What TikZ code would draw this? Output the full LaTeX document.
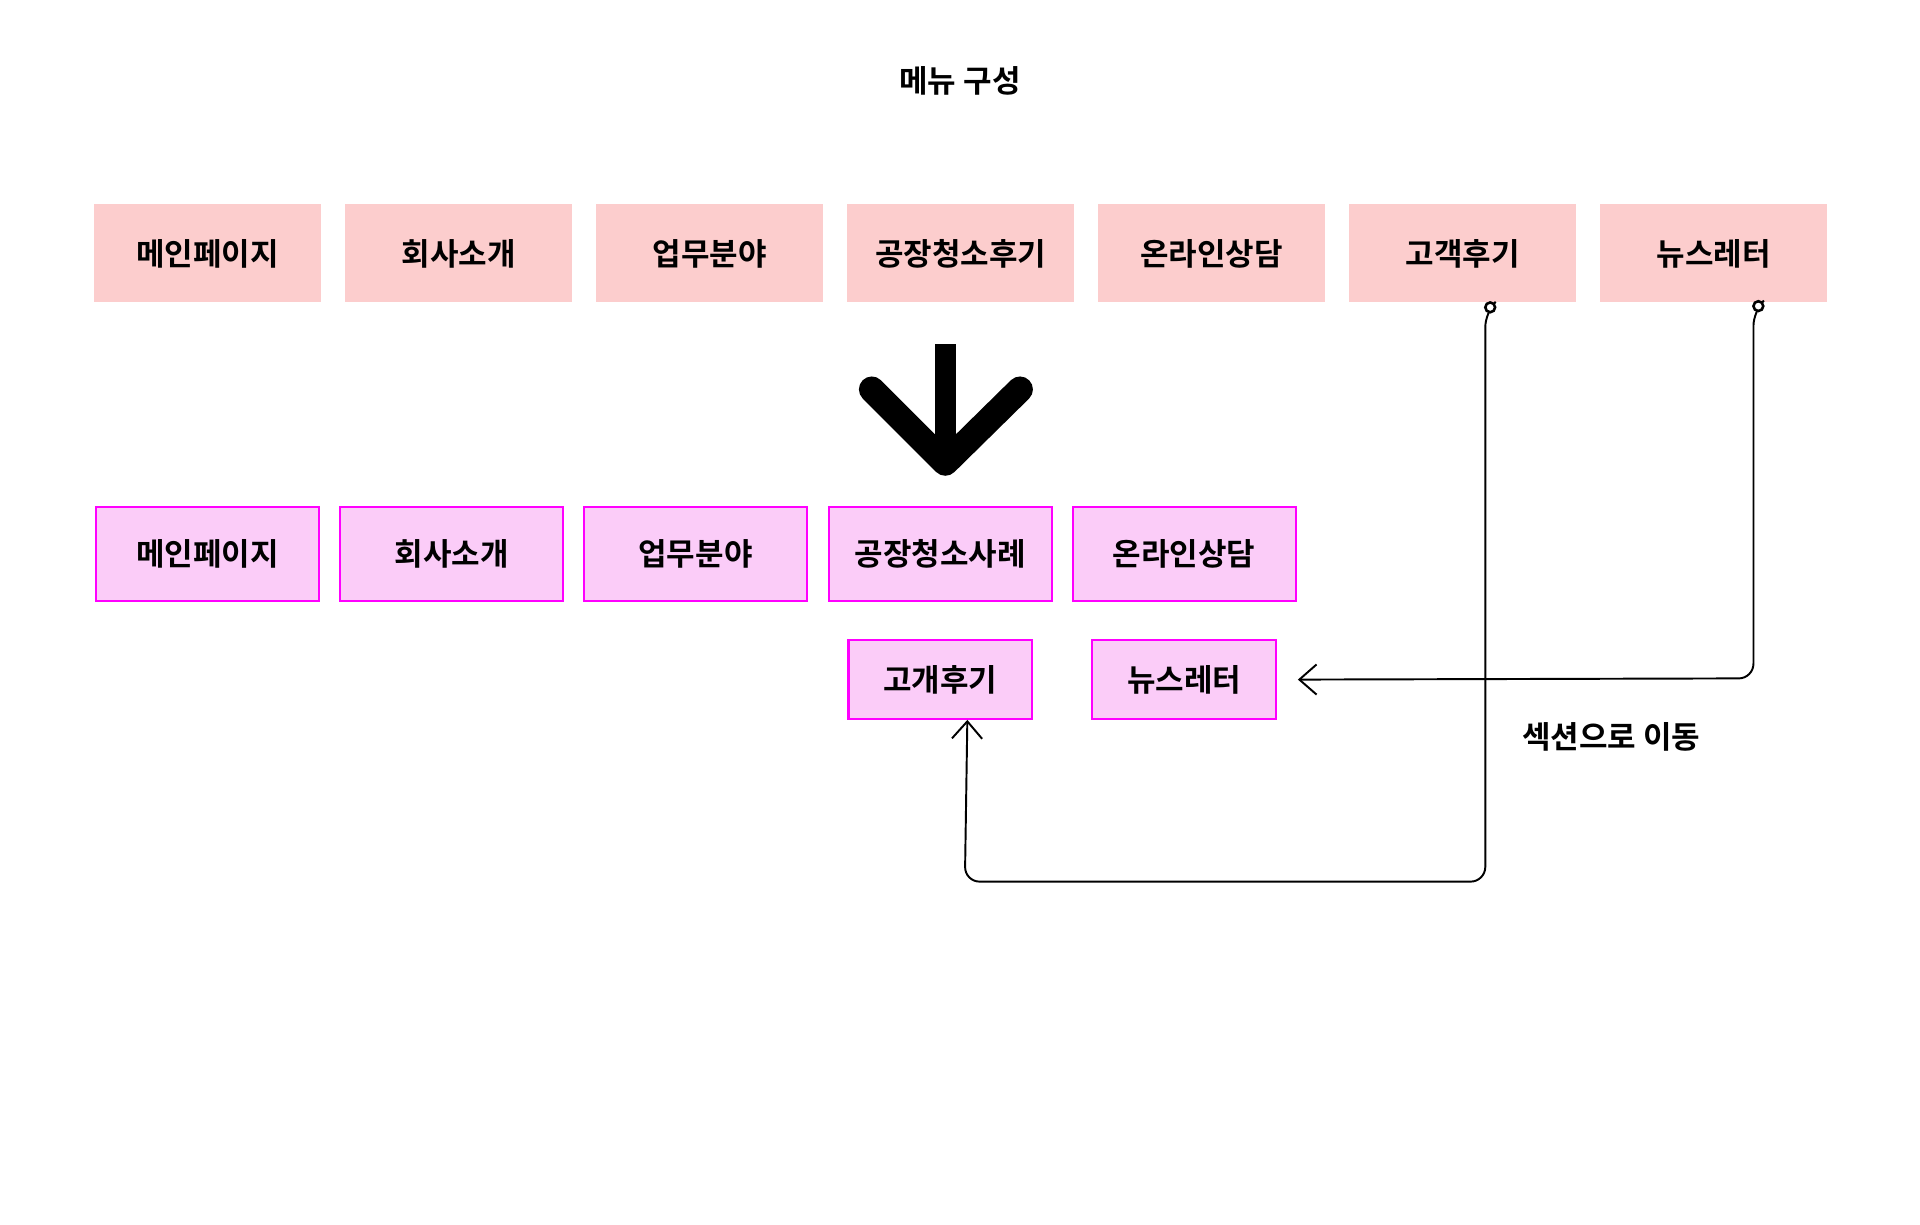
\documentclass[tikz,border=0pt]{standalone}
\usepackage{fontspec}
\setmainfont{Noto Sans CJK KR}[BoldFont={Noto Sans CJK KR Bold}]
\usetikzlibrary{arrows.meta}
\definecolor{pinkA}{HTML}{FCCDCD}
\definecolor{pinkB}{HTML}{FBCCF8}
\definecolor{mag}{HTML}{FF00FF}
\begin{document}
\begin{tikzpicture}[x=0.01cm,y=-0.01cm,
 top/.style={fill=pinkA,draw=none,minimum width=1.85cm,minimum height=0.8cm,font=\fontsize{7.2}{8}\selectfont\bfseries,inner sep=0},
 mid/.style={fill=pinkB,draw=mag,line width=0.5pt,minimum width=1.82cm,minimum height=0.77cm,font=\fontsize{7.2}{8}\selectfont\bfseries,inner sep=0},
 sm/.style={mid,minimum width=1.5cm,minimum height=0.64cm},
 lbl/.style={font=\fontsize{7.2}{8}\selectfont\bfseries},
 conn/.style={line width=0.45pt,rounded corners=0.12cm}]
\useasboundingbox (0,0) rectangle (1568,1000);
\node[lbl] (title) at (784,66) {메뉴 구성};
\foreach \x/\t [count=\i] in {169.5/메인페이지,374.5/회사소개,579.5/업무분야,784.5/공장청소후기,989.5/온라인상담,1194.5/고객후기,1399.5/뉴스레터}
  \node[top] (t\i) at (\x,207) {\t};
\foreach \x/\t [count=\i] in {169.5/메인페이지,369/회사소개,568/업무분야,768/공장청소사례,967/온라인상담}
  \node[mid] (m\i) at (\x,452.5) {\t};
\node[sm] (c1) at (768,555) {고개후기};
\node[sm] (c2) at (967,555) {뉴스레터};
\node[lbl] (move) at (1316,602) {섹션으로 이동};
% big arrow
\coordinate (ab) at (772,281);
\coordinate (at) at (772,378);
\draw[line width=5pt] (ab) -- (at);
\draw[line width=6pt,line cap=round,line join=round] (712,318) -- (at) -- (833,318);
% connectors
\coordinate (s1) at (1217,251);
\coordinate (s2) at (1436,250);
\draw[conn,-{Straight Barb[length=4pt,width=7pt]}] (s1) -- (1213,255) -- (1213,720) -- (788,720) -- (c1.south -| 790,0);
\draw[conn,-{Straight Barb[length=4pt,width=7pt]}] (s2) -- (1432,254) -- (1432,554) -- ([xshift=0.17cm]c2.east);
\draw[line width=0.6pt,fill=white] (s1) circle (0.04cm);
\draw[line width=0.6pt,fill=white] (s2) circle (0.04cm);
\end{tikzpicture}
\end{document}
